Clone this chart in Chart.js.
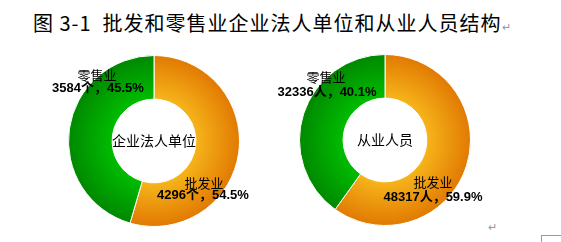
<!DOCTYPE html>
<html>
<head>
<meta charset="utf-8">
<script src="https://cdn.jsdelivr.net/npm/chart.js@4.4.1/dist/chart.umd.min.js"></script>
<style>
  body { margin: 0; background: #fff; width: 561px; height: 242px; position: relative; overflow: hidden; font-family: "Noto Sans CJK SC", sans-serif; }
  #title { position: absolute; left: 33px; top: 8px; font-size: 20px; color: #000; white-space: nowrap; letter-spacing: 1px; }
  #title .ret { font-size: 11px; color: #999; }
  .box { position: absolute; left: 0; top: 0; width: 561px; height: 242px; }
  .mark { position: absolute; font-size: 11px; color: #999; }
  #corner { position: absolute; left: 541px; top: 235px; width: 20px; height: 7px; border-left: 1px solid #999; border-top: 1px solid #999; }
</style>
</head>
<body>
<div id="title">图 3-1&nbsp; 批发和零售业企业法人单位和从业人员结构<span class="ret">↵</span></div>
<div class="mark" style="left:488px;top:218px;">↵</div>
<div id="corner"></div>
<div class="box"><canvas id="chart1"></canvas></div>
<div class="box"><canvas id="chart2"></canvas></div>
<script>
const categories = ['批发业', '零售业'];
const unitValues = [4296, 3584];
const unitPercents = ['54.5%', '45.5%'];
const staffValues = [48317, 32336];
const staffPercents = ['59.9%', '40.1%'];

const gradientStops = [
    ['#f6b41a', '#e17902'],
    ['#00bc00', '#008800']
];
const CUTOUT = 0.49;

function ringFill(context) {
    const chart = context.chart;
    const stops = gradientStops[context.dataIndex];
    const area = chart.chartArea;
    if (!area) return stops[1];
    const cx = (area.left + area.right) / 2;
    const cy = (area.top + area.bottom) / 2;
    const r = Math.min(area.right - area.left, area.bottom - area.top) / 2;
    const g = chart.ctx.createRadialGradient(cx, cy, r * CUTOUT, cx, cy, r);
    g.addColorStop(0, stops[0]);
    g.addColorStop(1, stops[1]);
    return g;
}

// text labels, offset from the ring centre
const labelPlugin = {
    id: 'ringLabels',
    afterDatasetsDraw(chart, args, opts) {
        const arc = chart.getDatasetMeta(0).data[0];
        if (!arc) return;
        const cx = arc.x, cy = arc.y;
        const ctx = chart.ctx;
        ctx.save();
        ctx.fillStyle = '#000';
        ctx.textAlign = 'center';
        ctx.textBaseline = 'middle';
        ctx.font = '14px "Noto Sans CJK SC"';
        ctx.fillText(opts.center, cx, cy);
        opts.labels.forEach((l, i) => {
            ctx.font = '13px "Noto Sans CJK SC"';
            ctx.fillText(categories[i], cx + l[0], cy + l[1]);
            ctx.font = 'bold 13px "Liberation Sans", "Noto Sans CJK SC"';
            ctx.fillText(opts.values[i] + opts.unit + '，' + opts.percents[i], cx + l[2], cy + l[3]);
        });
        ctx.restore();
    }
};

function makeRing(id, values, percents, unit, center, padding, labels) {
    return new Chart(document.getElementById(id), {
        type: 'doughnut',
        data: {
            labels: categories,
            datasets: [{
                data: values,
                backgroundColor: ringFill,
                borderColor: '#ffffff',
                borderWidth: 1
            }]
        },
        options: {
            responsive: true,
            maintainAspectRatio: false,
            animation: false,
            cutout: (CUTOUT * 100) + '%',
            rotation: 0,
            layout: { padding: padding },
            events: [],
            plugins: {
                legend: { display: false },
                tooltip: { enabled: false },
                ringLabels: { center: center, unit: unit, values: values, percents: percents, labels: labels }
            }
        },
        plugins: [labelPlugin]
    });
}

makeRing('chart1', unitValues, unitPercents, '个', '企业法人单位',
    { left: 68, right: 321, top: 55, bottom: 15 },
    [[50, 42, 49, 54], [-57, -66, -56, -53]]);
makeRing('chart2', staffValues, staffPercents, '人', '从业人员',
    { left: 299, right: 90, top: 54, bottom: 16 },
    [[48, 42, 48, 57], [-59, -63, -58, -48]]);
</script>
</body>
</html>
